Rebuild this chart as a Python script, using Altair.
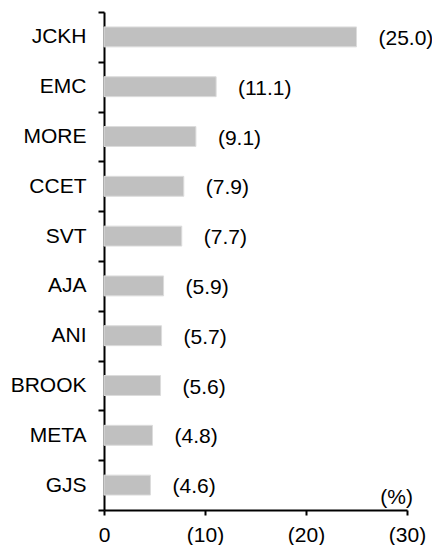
import altair as alt
import pandas as pd

companies = ["JCKH", "EMC", "MORE", "CCET", "SVT", "AJA", "ANI", "BROOK", "META", "GJS"]
values = [25.0, 11.1, 9.1, 7.9, 7.7, 5.9, 5.7, 5.6, 4.8, 4.6]
x_ticks = [0, 10, 20, 30]
unit_label = "(%)"

df = pd.DataFrame({"company": companies, "value": values})
FONT = "Liberation Sans"

x_enc = alt.X(
    "value:Q",
    scale=alt.Scale(domain=[0, 30], nice=False, zero=True),
    axis=alt.Axis(
        values=x_ticks,
        labelExpr="datum.value == 0 ? '0' : '(' + datum.value + ')'",
        title=None,
        grid=False,
        domainColor="black",
        domainWidth=2,
        tickColor="black",
        tickWidth=2,
        tickSize=5,
        labelFont=FONT,
        labelFontSize=21,
        labelColor="black",
        labelPadding=9,
        labelFlush=False,
    ),
)
y_enc = alt.Y(
    "company:N",
    sort=companies,
    scale=alt.Scale(paddingInner=0, paddingOuter=0),
    axis=alt.Axis(
        title=None,
        grid=False,
        tickBand="extent",
        domainColor="black",
        domainWidth=2,
        tickColor="black",
        tickWidth=2,
        tickSize=6,
        labelFont=FONT,
        labelFontSize=21,
        labelColor="black",
        labelPadding=12,
    ),
)

bars = alt.Chart(df).mark_bar(
    height={"band": 0.4}, color="#c0c0c0", stroke="#dcdcdc", strokeWidth=1
).encode(x=x_enc, y=y_enc)

labels = alt.Chart(df).transform_calculate(
    lab="'(' + format(datum.value, '.1f') + ')'"
).mark_text(
    align="left", baseline="middle", dx=22, dy=2, font=FONT, fontSize=21, color="black"
).encode(x="value:Q", y=alt.Y("company:N", sort=companies), text="lab:N")

unit = alt.Chart(pd.DataFrame({"t": [unit_label]})).mark_text(
    align="right", baseline="alphabetic", dx=6, dy=-6, font=FONT, fontSize=21, color="black"
).encode(x=alt.datum(30), y=alt.value(498), text="t:N")

chart = alt.layer(bars, labels, unit).properties(
    width=303,
    height=498,
    autosize=alt.AutoSizeParams(type="none"),
    padding={"left": 96, "top": 4, "right": 25, "bottom": 40},
).configure_view(stroke=None)

chart.save("out.html", embed_options={"renderer": "svg", "actions": False})
